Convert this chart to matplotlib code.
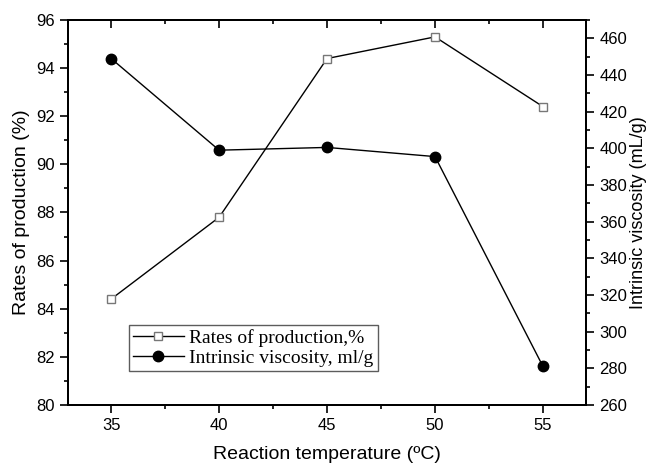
import matplotlib
matplotlib.use("Agg")
import matplotlib.pyplot as plt
from matplotlib.ticker import MultipleLocator

# ================== datos ============== #
temp = [35, 40, 45, 50, 55]
rates = [84.4, 87.8, 94.4, 95.3, 92.4]
viscosity = [449, 399, 400.5, 395.5, 281]

plt.rcParams["font.family"] = ["Liberation Sans", "DejaVu Sans"]

fig = plt.figure(figsize=(6.47, 4.66), dpi=100)
ax = fig.add_axes([0.105, 0.131, 0.801, 0.826])
ax2 = ax.twinx()

l1, = ax.plot(temp, rates, color="black", lw=1.0, marker="s", ms=6,
              mfc="white", mec="#777777", mew=1.0, label="Rates of production,%")
l2, = ax2.plot(temp, viscosity, color="black", lw=1.0, marker="o", ms=7.5,
               mfc="black", mec="black", label="Intrinsic viscosity, ml/g")

ax.set_xlim(33, 57)
ax.set_ylim(80, 96)
ax2.set_ylim(260, 470)

ax.xaxis.set_major_locator(MultipleLocator(5))
ax.xaxis.set_minor_locator(MultipleLocator(2.5))
ax.yaxis.set_major_locator(MultipleLocator(2))
ax.yaxis.set_minor_locator(MultipleLocator(1))
ax2.yaxis.set_major_locator(MultipleLocator(20))
ax2.yaxis.set_minor_locator(MultipleLocator(10))

for a in (ax, ax2):
    a.tick_params(which="both", direction="out", labelsize=12, width=1.2)
    a.tick_params(which="major", length=6)
    a.tick_params(which="minor", length=3)
    for s in a.spines.values():
        s.set_linewidth(1.4)

# ticks de arriba hacia adentro
top = ax.secondary_xaxis("top")
top.xaxis.set_major_locator(MultipleLocator(5))
top.xaxis.set_minor_locator(MultipleLocator(2.5))
top.tick_params(which="both", direction="in", labeltop=False, width=1.2)
top.tick_params(which="major", length=6)
top.tick_params(which="minor", length=3)
top.spines["top"].set_linewidth(1.4)

ax.set_xlabel("Reaction temperature (ºC)", fontsize=14, labelpad=9)
ax.set_ylabel("Rates of production (%)", fontsize=14, labelpad=4)
ax2.set_ylabel("Intrinsic viscosity (mL/g)", fontsize=13, labelpad=2)

leg = ax.legend(handles=[l1, l2], loc="lower left", bbox_to_anchor=(0.118, 0.088),
                prop={"family": "Liberation Serif", "size": 14},
                frameon=True, fancybox=False, edgecolor="#333333",
                handlelength=2.6, borderpad=0.2, labelspacing=0.15,
                handletextpad=0.3, borderaxespad=0)
leg.get_frame().set_linewidth(1.0)

fig.savefig("out.png", dpi=100)
